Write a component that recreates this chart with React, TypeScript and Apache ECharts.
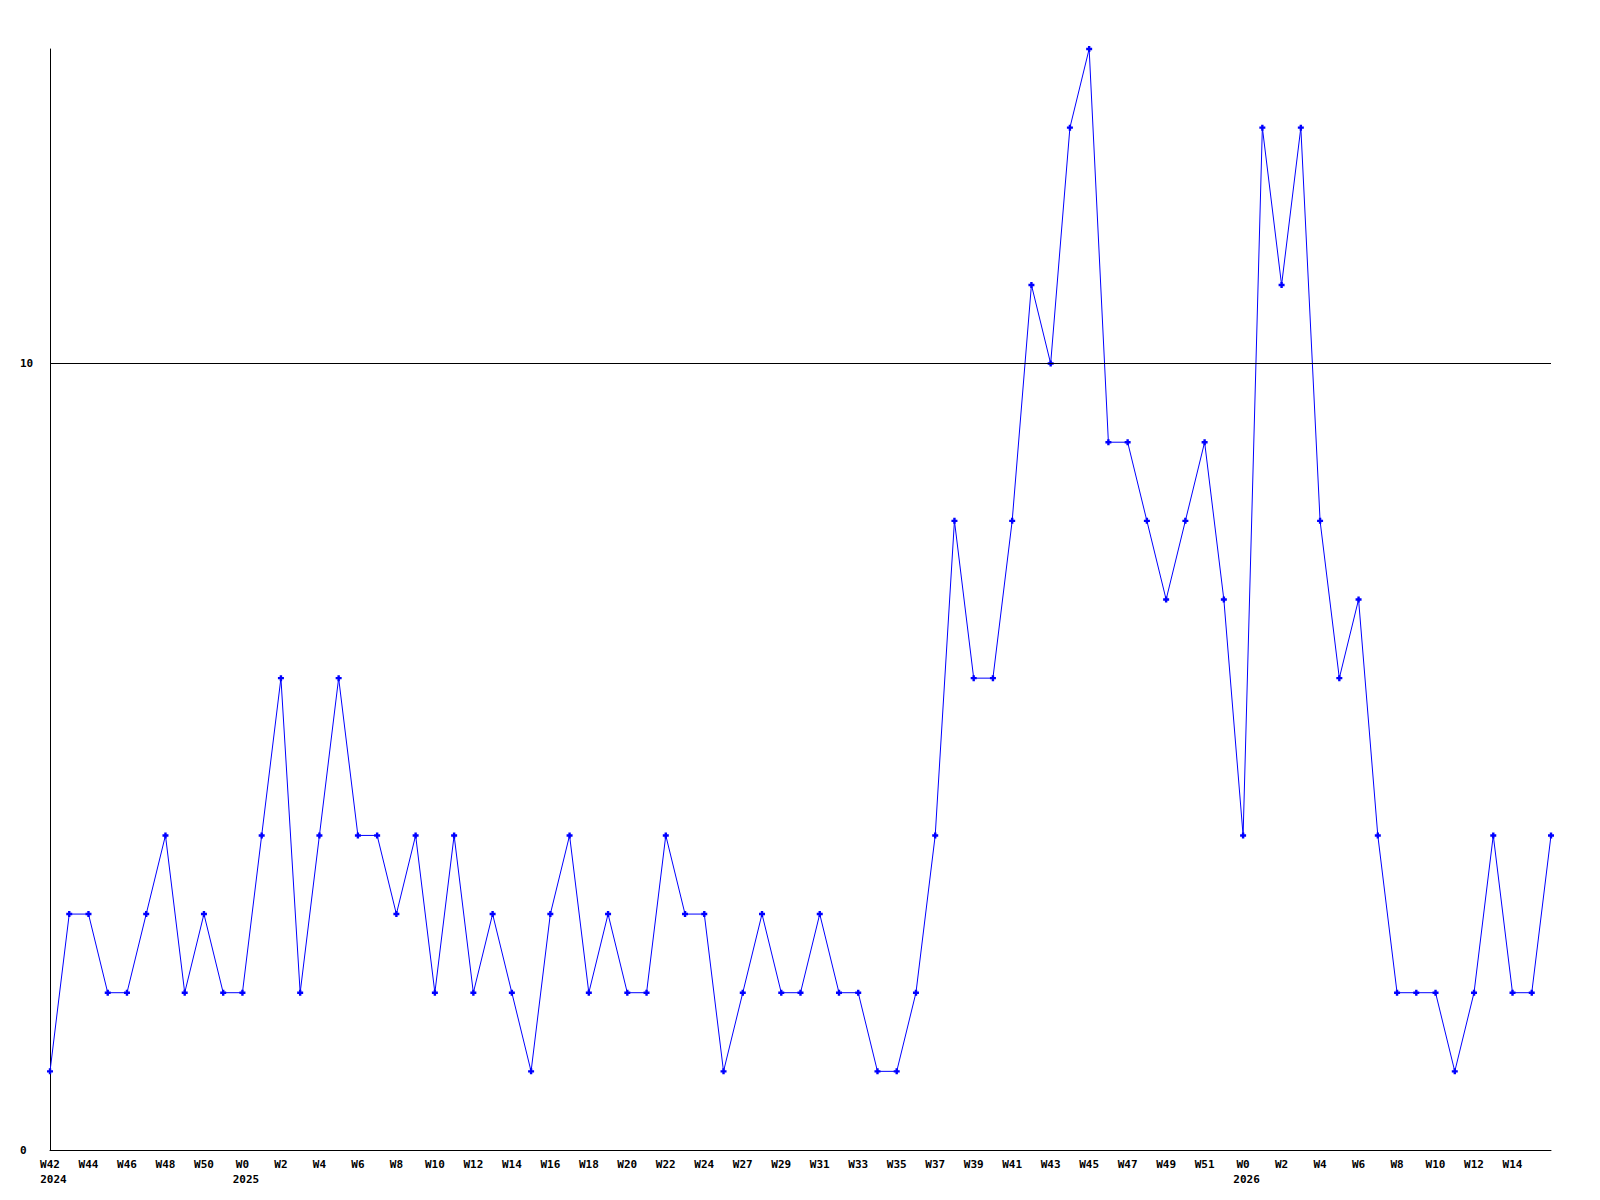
import React, { useEffect, useRef } from "react";
import * as echarts from "echarts";

const weeks: string[] = [
  "W42", "W43", "W44", "W45", "W46", "W47", "W48", "W49", "W50", "W51",
  "W0", "W1", "W2", "W3", "W4", "W5", "W6", "W7", "W8", "W9", "W10", "W11", "W12", "W13", "W14", "W15", "W16", "W17", "W18", "W19", "W20", "W21", "W22", "W23", "W24",
  "W25",
  "W27", "W28", "W29", "W30", "W31", "W32", "W33", "W34", "W35", "W36", "W37", "W38", "W39", "W40", "W41", "W42", "W43", "W44", "W45", "W46", "W47", "W48", "W49", "W50", "W51",
  "W52",
  "W0", "W1", "W2", "W3", "W4", "W5", "W6", "W7", "W8", "W9", "W10", "W11", "W12", "W13", "W14", "W15", "W16",
];

// year shown under the first week of each year (by category index)
const yearMarks: { index: number; year: string }[] = [
  { index: 0, year: "2024" },
  { index: 10, year: "2025" },
  { index: 62, year: "2026" },
];

const counts: number[] = [
  1, 3, 3, 2, 2, 3, 4, 2, 3, 2,
  2, 4, 6, 2, 4, 6, 4, 4, 3, 4,
  2, 4, 2, 3, 2, 1, 3, 4, 2, 3,
  2, 2, 4, 3, 3, 1, 2, 3, 2, 2,
  3, 2, 2, 1, 1, 2, 4, 8, 6, 6,
  8, 11, 10, 13, 14, 9, 9, 8, 7, 8,
  9, 7, 4, 13, 11, 13, 8, 6, 7, 4,
  2, 2, 2, 1, 2, 4, 2, 2, 4,
];

const yTicks: number[] = [0, 10];

export default function App() {
  const ref = useRef<HTMLDivElement>(null);
  useEffect(() => {
    if (!ref.current) return;
    const chart = echarts.init(ref.current, null, { renderer: "svg" });
    const font = "'DejaVu Sans Mono', monospace";
    const lastIndex = weeks.length - 1;
    chart.setOption({
      animation: false,
      backgroundColor: "#ffffff",
      grid: { left: 50, right: 49, top: 49, bottom: 50, containLabel: false },
      xAxis: {
        type: "category",
        data: weeks,
        boundaryGap: false,
        axisLine: { show: true, lineStyle: { color: "#000000", width: 1 } },
        axisTick: { show: false },
        splitLine: { show: false },
        axisLabel: {
          interval: 1,
          margin: 7,
          color: "#000000",
          fontFamily: font,
          fontWeight: "bold",
          fontSize: 11,
          lineHeight: 15,
          formatter: (value: string, index: number) => {
            if (index === lastIndex) return "";
            const ym = yearMarks.find((m) => m.index === index);
            return ym ? `{w|${value}}\n{y|${ym.year}}` : `{w|${value}}`;
          },
          rich: {
            w: { fontFamily: font, fontWeight: "bold", fontSize: 11, color: "#000", lineHeight: 15 },
            y: { fontFamily: font, fontWeight: "bold", fontSize: 11, color: "#000", lineHeight: 15, padding: [0, 0, 0, 7] },
          },
        },
      },
      yAxis: {
        type: "value",
        min: 0,
        max: 14,
        interval: 10,
        axisLine: { show: true, lineStyle: { color: "#000000", width: 1 } },
        axisTick: { show: false },
        splitLine: { show: false },
        axisLabel: {
          margin: 30,
          align: "left",
          color: "#000000",
          fontFamily: font,
          fontWeight: "bold",
          fontSize: 11,
          showMaxLabel: false,
          formatter: (v: number) => (yTicks.includes(v) ? String(v) : ""),
        },
      },
      series: [
        {
          type: "line",
          data: counts,
          symbol: "path://M1.5,0H3.5V1.5H5V3.5H3.5V5H1.5V3.5H0V1.5H1.5Z",
          symbolSize: 6,
          showSymbol: true,
          itemStyle: { color: "#0000ff" },
          lineStyle: { color: "#0000ff", width: 1 },
          markLine: {
            silent: true,
            symbol: ["none", "none"],
            label: { show: false },
            lineStyle: { color: "#000000", width: 1, type: "solid" },
            data: [{ yAxis: 10 }],
          },
        },
      ],
    });
    return () => chart.dispose();
  }, []);
  return (
    <div
      ref={ref}
      style={{ position: "fixed", left: 0, top: 0, width: 1600, height: 1200, background: "#fff" }}
    />
  );
}
